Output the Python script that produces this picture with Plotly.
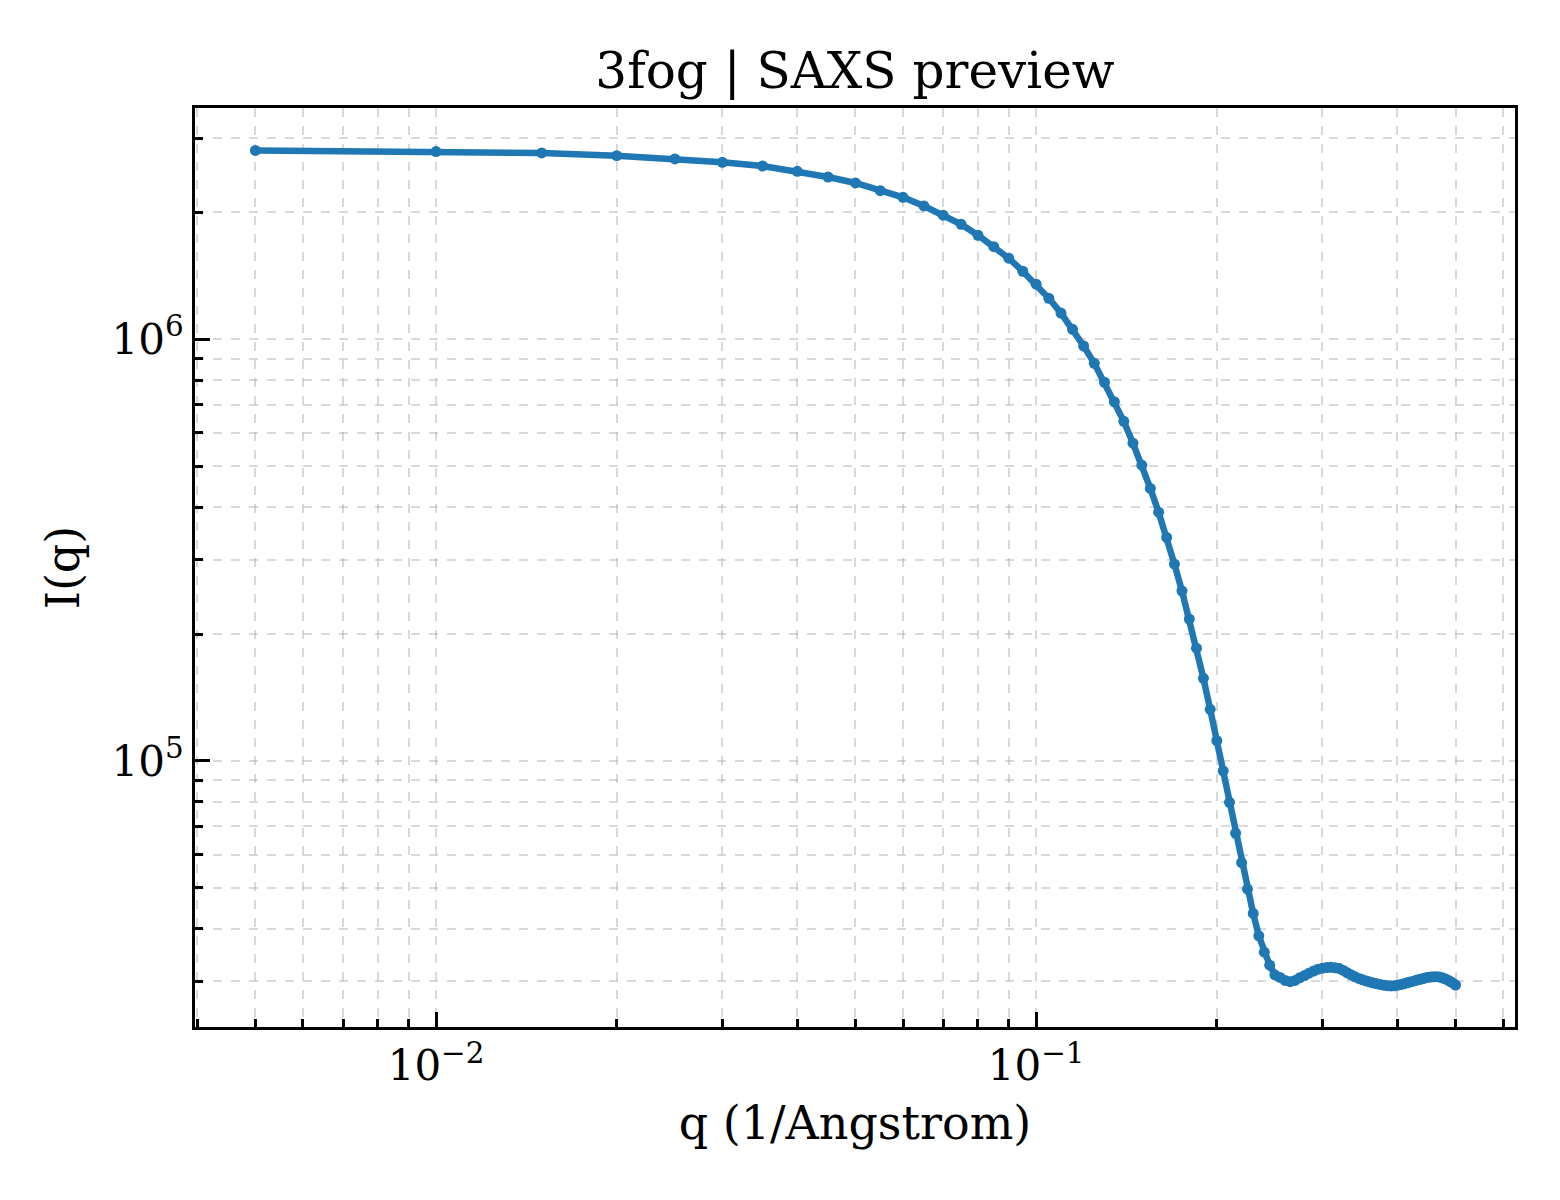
import plotly.graph_objects as go

# ---- data ----
q_values = [
    0.005, 0.010, 0.015, 0.020, 0.025, 0.030, 0.035, 0.040, 0.045, 0.050,
    0.055, 0.060, 0.065, 0.070, 0.075, 0.080, 0.085, 0.090, 0.095, 0.100,
    0.105, 0.110, 0.115, 0.120, 0.125, 0.130, 0.135, 0.140, 0.145, 0.150,
    0.155, 0.160, 0.165, 0.170, 0.175, 0.180, 0.185, 0.190, 0.195, 0.200,
    0.205, 0.210, 0.215, 0.220, 0.225, 0.230, 0.235, 0.240, 0.245, 0.250,
    0.255, 0.260, 0.265, 0.270, 0.275, 0.280, 0.285, 0.290, 0.295, 0.300,
    0.305, 0.310, 0.315, 0.320, 0.325, 0.330, 0.335, 0.340, 0.345, 0.350,
    0.355, 0.360, 0.365, 0.370, 0.375, 0.380, 0.385, 0.390, 0.395, 0.400,
    0.405, 0.410, 0.415, 0.420, 0.425, 0.430, 0.435, 0.440, 0.445, 0.450,
    0.455, 0.460, 0.465, 0.470, 0.475, 0.480, 0.485, 0.490, 0.495, 0.500,
]
intensity = [
    2.804e6, 2.788e6, 2.766e6, 2.725e6, 2.677e6, 2.628e6, 2.576e6, 2.503e6, 2.426e6, 2.348e6,
    2.251e6, 2.171e6, 2.071e6, 1.969e6, 1.874e6, 1.765e6, 1.658e6, 1.557e6, 1.450e6, 1.351e6,
    1.251e6, 1.154e6, 1.056e6, 9.64e5, 8.77e5, 7.91e5, 7.11e5, 6.39e5, 5.67e5, 5.03e5,
    4.43e5, 3.89e5, 3.39e5, 2.93e5, 2.53e5, 2.17e5, 1.851e5, 1.571e5, 1.326e5, 1.117e5,
    9.47e4, 7.98e4, 6.74e4, 5.74e4, 4.97e4, 4.35e4, 3.85e4, 3.52e4, 3.28e4, 3.11e4,
    30670, 30170, 29970, 30170, 30620, 30990, 31390, 31770, 32090, 32260,
    32380, 32420, 32330, 32190, 31860, 31460, 31120, 30780, 30500, 30280,
    30080, 29900, 29750, 29620, 29500, 29400, 29330, 29290, 29310, 29400,
    29510, 29630, 29780, 29920, 30050, 30200, 30330, 30450, 30590, 30690,
    30750, 30780, 30800, 30750, 30620, 30450, 30250, 30000, 29720, 29430,
]

x_major = [0.01, 0.1]
x_major_text = ["10<sup>\u22122</sup>", "10<sup>\u22121</sup>"]
x_minor = [0.004, 0.005, 0.006, 0.007, 0.008, 0.009,
           0.02, 0.03, 0.04, 0.05, 0.06, 0.07, 0.08, 0.09,
           0.2, 0.3, 0.4, 0.5, 0.6]
y_major = [1e5, 1e6]
y_major_text = ["10<sup>5</sup>", "10<sup>6</sup>"]
y_minor = [3e4, 4e4, 5e4, 6e4, 7e4, 8e4, 9e4,
           2e5, 3e5, 4e5, 5e5, 6e5, 7e5, 8e5, 9e5,
           2e6, 3e6]

FONT = "DejaVu Serif"
BLUE = "#1f77b4"
GRID = "rgba(170,170,170,0.45)"

fig = go.Figure()
fig.add_trace(go.Scatter(
    x=q_values, y=intensity, mode="lines+markers",
    line=dict(color=BLUE, width=6.5),
    marker=dict(color=BLUE, size=11),
    showlegend=False,
))

axis_common = dict(
    type="log",
    showline=True, linecolor="black", linewidth=3, mirror=True,
    ticks="inside", ticklen=15, tickwidth=3, tickcolor="black",
    tickfont=dict(family=FONT, size=42, color="black"),
    showgrid=True, gridcolor=GRID, gridwidth=1.5, griddash="dash",
    zeroline=False,
)

fig.update_layout(
    width=1552, height=1192, autosize=False,
    margin=dict(l=187, r=45, t=100, b=173),
    paper_bgcolor="white", plot_bgcolor="white",
    font=dict(family=FONT, color="black"),
    title=dict(text="3fog | SAXS preview", x=0.5, xref="paper", xanchor="center",
               y=1 - 62 / 1192, yanchor="middle", yref="container",
               font=dict(family=FONT, size=50, color="black")),
    xaxis=dict(
        **axis_common,
        range=[-2.4017, -0.202],
        tickmode="array", tickvals=x_major, ticktext=x_major_text,
        minor=dict(tickmode="array", tickvals=x_minor, ticks="inside", ticklen=8,
                   tickwidth=2.5, tickcolor="black", showgrid=True,
                   gridcolor=GRID, gridwidth=1.5, griddash="dash"),
        title=dict(text="q (1/Angstrom)", font=dict(family=FONT, size=46, color="black"),
                   standoff=18),
    ),
    yaxis=dict(
        **axis_common,
        range=[4.3692, 6.5485],
        tickmode="array", tickvals=y_major, ticktext=y_major_text,
        minor=dict(tickmode="array", tickvals=y_minor, ticks="inside", ticklen=8,
                   tickwidth=2.5, tickcolor="black", showgrid=True,
                   gridcolor=GRID, gridwidth=1.5, griddash="dash"),
        title=dict(text="I(q)", font=dict(family=FONT, size=46, color="black"),
                   standoff=18),
    ),
)

fig.write_html("out.html")
